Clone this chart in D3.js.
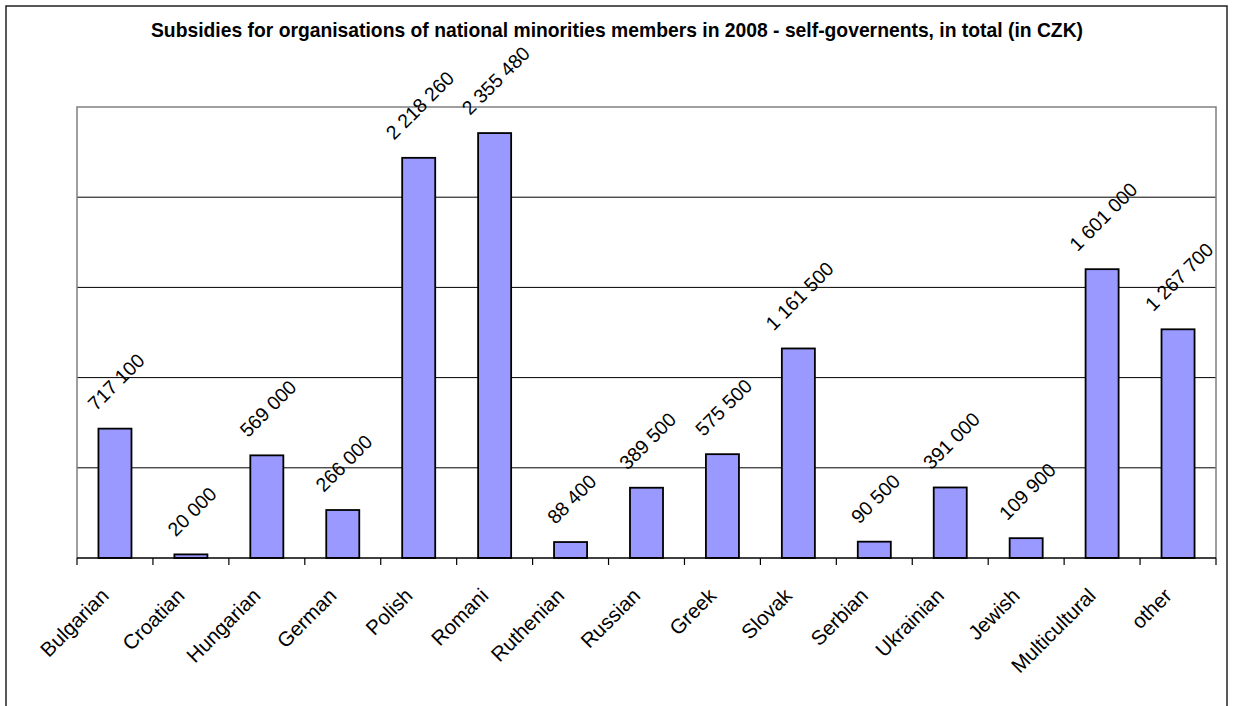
<!DOCTYPE html>
<html>
<head>
<meta charset="utf-8">
<script src="https://cdn.jsdelivr.net/npm/d3@7"></script>
<style>
  html, body { margin: 0; padding: 0; background: #fff; }
  svg { display: block; }
  text { font-family: "Liberation Sans", Arial, sans-serif; fill: #000; }
</style>
</head>
<body>
<svg id="chart" width="1234" height="706"></svg>
<script>
// Minority groups and their 2008 subsidies (CZK)
const categories = ["Bulgarian", "Croatian", "Hungarian", "German", "Polish", "Romani",
  "Ruthenian", "Russian", "Greek", "Slovak", "Serbian", "Ukrainian", "Jewish",
  "Multicultural", "other"];
const subsidies = [717100, 20000, 569000, 266000, 2218260, 2355480, 88400, 389500,
  575500, 1161500, 90500, 391000, 109900, 1601000, 1267700];
const gridValues = [500000, 1000000, 1500000, 2000000];
const yMax = 2500000;
const title = "Subsidies for organisations of national minorities members in 2008 - self-governents, in total (in CZK)";

const data = categories.map((c, i) => ({ name: c, value: subsidies[i] }));

const svg = d3.select("#chart");
const plot = { left: 77, right: 1216, top: 107, bottom: 558 };

// outer frame
svg.append("rect")
  .attr("x", 6).attr("y", 6).attr("width", 1221).attr("height", 720)
  .attr("fill", "#fff").attr("stroke", "#222").attr("stroke-width", 1.5);

const x = d3.scaleBand()
  .domain(categories)
  .range([plot.left, plot.right])
  .paddingInner(0.565)
  .paddingOuter(0.2825);

const y = d3.scaleLinear().domain([0, yMax]).range([plot.bottom, plot.top]);

// gridlines
svg.append("g").selectAll("line").data(gridValues).join("line")
  .attr("x1", plot.left).attr("x2", plot.right)
  .attr("y1", d => y(d)).attr("y2", d => y(d))
  .attr("stroke", "#000").attr("stroke-width", 1);

// plot area border (left, top, right)
svg.append("path")
  .attr("d", `M${plot.left},${plot.bottom}V${y(yMax)}H${plot.right}V${plot.bottom}`)
  .attr("fill", "none").attr("stroke", "#808080").attr("stroke-width", 1.5);

// bars
svg.append("g").selectAll("rect").data(data).join("rect")
  .attr("x", d => x(d.name))
  .attr("y", d => y(d.value))
  .attr("width", x.bandwidth())
  .attr("height", d => y(0) - y(d.value))
  .attr("fill", "#9999FF")
  .attr("stroke", "#000").attr("stroke-width", 1.8);

// category axis with ticks on band boundaries
const step = x.step();
const bounds = categories.map(c => x(c) + x.bandwidth() / 2 - step / 2);
bounds.push(bounds[bounds.length - 1] + step);
svg.append("line")
  .attr("x1", plot.left).attr("x2", plot.right)
  .attr("y1", plot.bottom).attr("y2", plot.bottom)
  .attr("stroke", "#000").attr("stroke-width", 1.5);
svg.append("g").selectAll("line").data(bounds).join("line")
  .attr("x1", d => d).attr("x2", d => d)
  .attr("y1", plot.bottom).attr("y2", plot.bottom + 7)
  .attr("stroke", "#000").attr("stroke-width", 1.2);

// category labels
svg.append("g").selectAll("text").data(categories).join("text")
  .attr("text-anchor", "end")
  .attr("font-size", 20.5)
  .attr("transform", d => {
    const cx = x(d) + x.bandwidth() / 2 - 5;
    return `translate(${cx},597) rotate(-45)`;
  })
  .text(d => d);

// value labels
const fmt = d3.formatLocale({ decimal: ".", thousands: " ", grouping: [3] }).format(",");
const labels = svg.append("g").selectAll("text").data(data).join("text")
  .attr("text-anchor", "start")
  .attr("font-size", 19.5)
  .text(d => fmt(d.value));
labels.attr("transform", function (d) {
  const L = this.getComputedTextLength();
  const sx = x(d.name) + x.bandwidth() / 2 + 6 - L * 0.354;
  return `translate(${sx},${y(d.value) - 17}) rotate(-45)`;
});

// title
svg.append("text")
  .attr("x", 617).attr("y", 37)
  .attr("text-anchor", "middle")
  .attr("font-size", 21)
  .attr("font-weight", "bold")
  .attr("textLength", 932)
  .attr("lengthAdjust", "spacingAndGlyphs")
  .text(title);
</script>
</body>
</html>
